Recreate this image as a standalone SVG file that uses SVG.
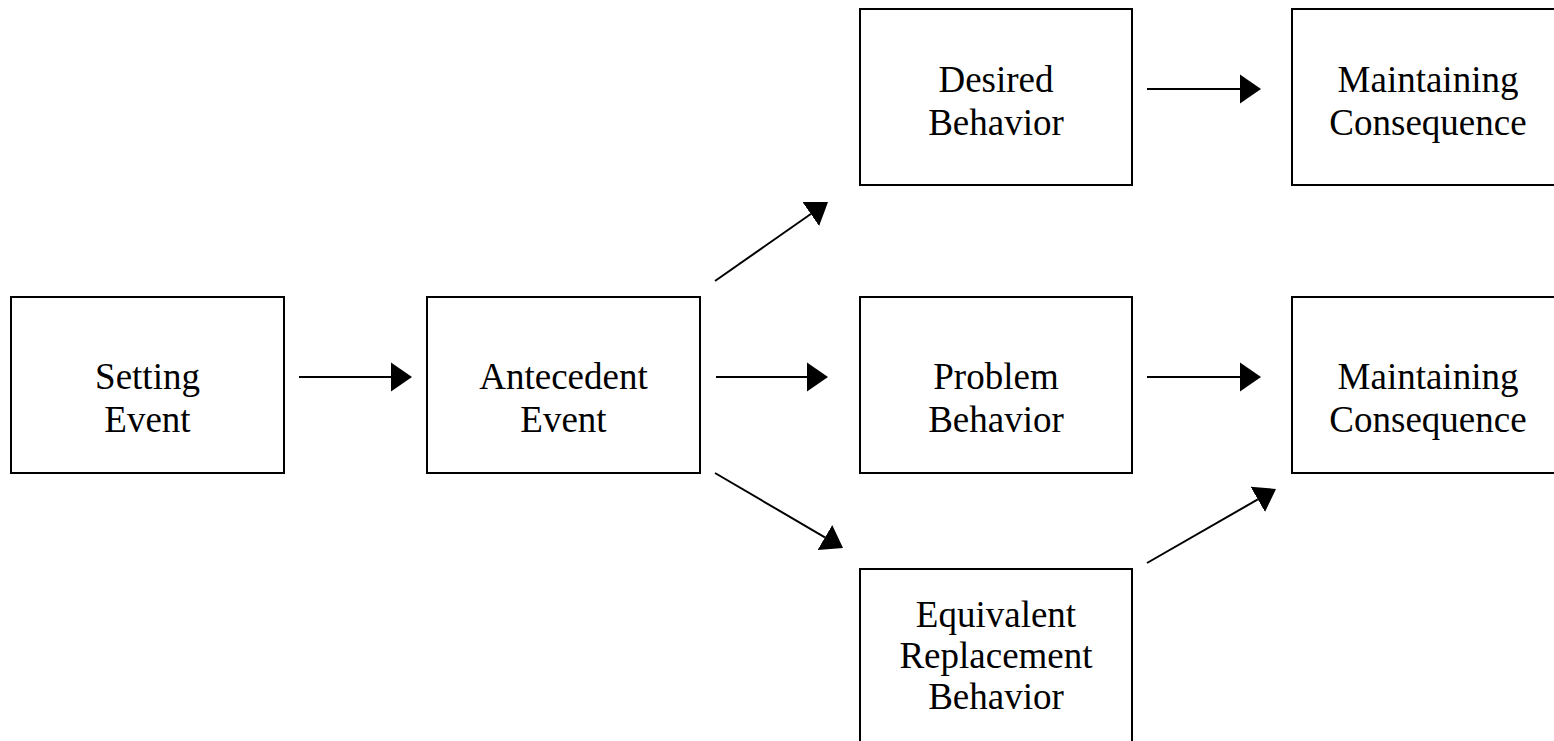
<svg xmlns="http://www.w3.org/2000/svg" width="1554" height="741" viewBox="0 0 1554 741">
<style>
.box{fill:#fff;stroke:#000;stroke-width:2}
.lbl{font-family:"Liberation Serif","Times New Roman",serif;font-size:37px;fill:#000;text-anchor:middle}
.conn line{stroke:#000;stroke-width:2;marker-end:url(#ah)}
</style>
<defs>
<marker id="ah" markerUnits="userSpaceOnUse" viewBox="0 -15 22 30" refX="0" refY="0" markerWidth="22" markerHeight="30" orient="auto">
<path d="M0,-14.5 L21,0 L0,14.5 z" fill="#000"/>
</marker>
</defs>
<rect width="1554" height="741" fill="#fff"/>
<g id="setting-event"><rect class="box" x="11" y="297" width="273" height="176"/><text class="lbl" x="147.5" y="389">Setting</text><text class="lbl" x="147.5" y="432">Event</text></g>
<g id="antecedent-event"><rect class="box" x="427" y="297" width="273" height="176"/><text class="lbl" x="563.5" y="389">Antecedent</text><text class="lbl" x="563.5" y="432">Event</text></g>
<g id="desired-behavior"><rect class="box" x="860" y="9" width="272" height="176"/><text class="lbl" x="996" y="92">Desired</text><text class="lbl" x="996" y="135">Behavior</text></g>
<g id="problem-behavior"><rect class="box" x="860" y="297" width="272" height="176"/><text class="lbl" x="996" y="389">Problem</text><text class="lbl" x="996" y="432">Behavior</text></g>
<g id="equivalent-replacement-behavior"><rect class="box" x="860" y="569" width="272" height="190"/><text class="lbl" x="996" y="627">Equivalent</text><text class="lbl" x="996" y="668">Replacement</text><text class="lbl" x="996" y="709">Behavior</text></g>
<g id="maintaining-consequence-1"><rect class="box" x="1292" y="9" width="273" height="176"/><text class="lbl" x="1428" y="92">Maintaining</text><text class="lbl" x="1428" y="135">Consequence</text></g>
<g id="maintaining-consequence-2"><rect class="box" x="1292" y="297" width="273" height="176"/><text class="lbl" x="1428" y="389">Maintaining</text><text class="lbl" x="1428" y="432">Consequence</text></g>
<g id="connectors" class="conn">
<line x1="299" y1="377" x2="391" y2="377"/>
<line x1="716" y1="377" x2="807" y2="377"/>
<line x1="1147" y1="377" x2="1240" y2="377"/>
<line x1="1147" y1="89" x2="1240" y2="89"/>
<line x1="715" y1="281" x2="810.8" y2="214"/>
<line x1="715" y1="473" x2="824.9" y2="537.4"/>
<line x1="1147" y1="563" x2="1257.8" y2="499.4"/>
</g>
</svg>
